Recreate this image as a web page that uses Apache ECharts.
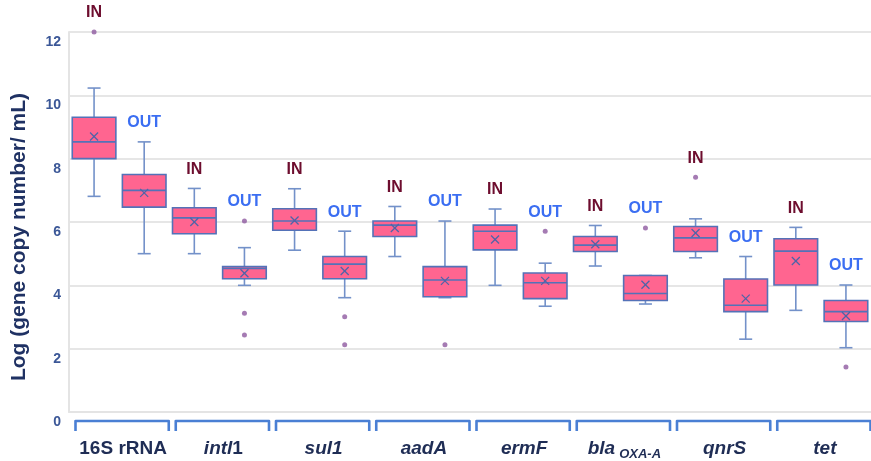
<!DOCTYPE html>
<html>
<head>
<meta charset="utf-8">
<script src="https://cdn.jsdelivr.net/npm/echarts@6/dist/echarts.min.js"></script>
<style>
html,body{margin:0;padding:0;background:#fff;}
#chart{width:871px;height:461px;}
</style>
</head>
<body>
<div id="chart"></div>
<script>
// ---- data ----
const genes = ['16S rRNA', 'intl1', 'sul1', 'aadA', 'ermF', 'blaOXA-A', 'qnrS', 'tet'];
const groups = ['IN', 'OUT'];
// 16 boxes, order: gene1 IN, gene1 OUT, gene2 IN, ...
const whiskerLow  = [6.81, 5.00, 5.00, 4.00, 5.11, 3.61, 4.91, 3.61, 4.00, 3.34, 4.61, 3.41, 4.87, 2.30, 3.21, 2.03];
const q1          = [8.00, 6.47, 5.63, 4.21, 5.74, 4.21, 5.54, 3.64, 5.12, 3.58, 5.07, 3.52, 5.07, 3.17, 4.01, 2.86];
const median      = [8.53, 7.00, 6.13, 4.53, 6.03, 4.67, 5.90, 4.17, 5.71, 4.08, 5.27, 3.74, 5.50, 3.37, 5.08, 3.17];
const q3          = [9.31, 7.50, 6.45, 4.59, 6.42, 4.91, 6.03, 4.59, 5.90, 4.39, 5.54, 4.31, 5.86, 4.20, 5.47, 3.52];
const whiskerHigh = [10.23, 8.53, 7.06, 5.19, 7.05, 5.71, 6.49, 6.03, 6.41, 4.70, 5.89, 4.31, 6.10, 4.91, 5.83, 4.01];
const mean        = [8.70, 6.92, 6.00, 4.38, 6.05, 4.45, 5.81, 4.14, 5.45, 4.14, 5.30, 4.02, 5.65, 3.58, 4.77, 3.03];
const outliers = [[0, 12.0], [3, 6.03], [3, 3.12], [3, 2.43], [5, 3.01], [5, 2.12], [7, 2.12], [9, 5.71], [11, 5.81], [12, 7.41], [15, 1.42]];
const yTicks = [0, 2, 4, 6, 8, 10, 12];

// ---- build ----
const boxCats = [];
genes.forEach(g => groups.forEach(s => boxCats.push(g + ' ' + s)));
const boxData = boxCats.map((c, i) => [i, whiskerLow[i], q1[i], median[i], q3[i], whiskerHigh[i], mean[i]]);
const topVal = boxCats.map((c, i) => {
  let t = whiskerHigh[i];
  outliers.forEach(o => { if (o[0] === i && o[1] > t) t = o[1]; });
  return t;
});

const FONT = '"Liberation Sans", Arial, sans-serif';
const chart = echarts.init(document.getElementById('chart'), null, {renderer: 'canvas'});

function geneLabel(g) {
  if (g === '16S rRNA') return '{b|16S rRNA}';
  if (g === 'intl1') return '{i|intl}{b|1}';
  if (g === 'blaOXA-A') return '{i|bla}{sub|OXA-A}';
  return '{i|' + g + '}';
}

const option = {
  animation: false,
  grid: {left: 69, right: -7, top: 32, bottom: 48, containLabel: false},
  xAxis: [
    {
      type: 'category', data: boxCats, boundaryGap: true,
      axisLine: {show: true, lineStyle: {color: '#e4e4e4', width: 2}},
      axisTick: {show: false}, axisLabel: {show: false}, splitLine: {show: false}
    },
    {
      type: 'category', data: genes, position: 'bottom', boundaryGap: true,
      axisLine: {show: false}, axisTick: {show: false}, splitLine: {show: false},
      axisLabel: {
        interval: 0, hideOverlap: false,
        margin: 25, padding: [0, 0, 0, 8],
        formatter: geneLabel,
        rich: {
          b: {fontFamily: FONT, fontWeight: 'bold', fontSize: 19, color: '#1f2d55', lineHeight: 24},
          i: {fontFamily: FONT, fontWeight: 'bold', fontStyle: 'italic', fontSize: 19, color: '#1f2d55', lineHeight: 24},
          sub: {fontFamily: FONT, fontWeight: 'bold', fontStyle: 'italic', fontSize: 13, color: '#1f2d55', lineHeight: 24, verticalAlign: 'bottom', padding: [6, 0, 0, 4]}
        }
      }
    }
  ],
  yAxis: {
    type: 'value', min: yTicks[0], max: yTicks[yTicks.length - 1], interval: 2,
    axisLine: {show: true, lineStyle: {color: '#e4e4e4', width: 2}},
    axisTick: {show: false},
    splitLine: {show: true, lineStyle: {color: '#e6e6e6', width: 2}},
    axisLabel: {
      margin: 8, color: '#3b5797', fontFamily: FONT, fontWeight: 'bold', fontSize: 14,
      verticalAlign: 'top', padding: [3, 0, 0, 0]
    }
  },
  graphic: [{
    type: 'text', x: 19, y: 237, rotation: Math.PI / 2,
    style: {
      text: 'Log (gene copy number/ mL)', x: 0, y: 0, align: 'center', verticalAlign: 'middle',
      fontFamily: FONT, fontWeight: 'bold', fontSize: 21, fill: '#1f3163'
    }
  }],
  series: [
    {
      type: 'custom', xAxisIndex: 0, yAxisIndex: 0, data: boxData,
      encode: {x: 0, y: [1, 2, 3, 4, 5, 6]}, clip: false, z: 3,
      renderItem: function (params, api) {
        const i = api.value(0);
        const x = api.coord([i, 0])[0];
        const bw = api.size([1, 0])[0] * 0.87;
        const h = bw / 2;
        const yLo = api.coord([i, api.value(1)])[1];
        const yQ1 = api.coord([i, api.value(2)])[1];
        const yMed = api.coord([i, api.value(3)])[1];
        const yQ3 = api.coord([i, api.value(4)])[1];
        const yHi = api.coord([i, api.value(5)])[1];
        const yMean = api.coord([i, api.value(6)])[1];
        const cap = 6.5, cr = 4;
        const wStyle = {stroke: '#7391c9', lineWidth: 1.6};
        const grp = groups[i % 2];
        const yLab = api.coord([i, topVal[i]])[1] - 19;
        return {
          type: 'group',
          children: [
            {type: 'line', shape: {x1: x, y1: yLo, x2: x, y2: yQ1}, style: wStyle},
            {type: 'line', shape: {x1: x, y1: yHi, x2: x, y2: yQ3}, style: wStyle},
            {type: 'line', shape: {x1: x - cap, y1: yLo, x2: x + cap, y2: yLo}, style: wStyle},
            {type: 'line', shape: {x1: x - cap, y1: yHi, x2: x + cap, y2: yHi}, style: wStyle},
            {type: 'rect', shape: {x: x - h, y: yQ3, width: bw, height: yQ1 - yQ3},
              style: {fill: '#ff6590', stroke: '#5472b8', lineWidth: 1.6}},
            {type: 'line', shape: {x1: x - h, y1: yMed, x2: x + h, y2: yMed}, style: {stroke: '#5472b8', lineWidth: 1.6}},
            {type: 'line', shape: {x1: x - cr, y1: yMean - cr, x2: x + cr, y2: yMean + cr}, style: {stroke: '#4f63a8', lineWidth: 1.3}},
            {type: 'line', shape: {x1: x - cr, y1: yMean + cr, x2: x + cr, y2: yMean - cr}, style: {stroke: '#4f63a8', lineWidth: 1.3}},
            {type: 'text', style: {
              text: grp, x: x, y: yLab, align: 'center', verticalAlign: 'middle',
              fontFamily: FONT, fontWeight: 'bold', fontSize: 16,
              fill: grp === 'IN' ? '#6d0d2e' : '#3b6ef2'
            }}
          ]
        };
      }
    },
    {
      type: 'scatter', xAxisIndex: 0, yAxisIndex: 0, data: outliers,
      symbol: 'circle', symbolSize: 5, z: 4,
      itemStyle: {color: '#8e5aa0'}
    },
    {
      type: 'custom', xAxisIndex: 1, yAxisIndex: 0,
      data: genes.map((g, i) => [i, 0]), encode: {x: 0, y: 1}, clip: false, z: 3,
      renderItem: function (params, api) {
        const i = api.value(0);
        const p = api.coord([i, 0]);
        const w = api.size([1, 0])[0] - 7;
        const x = p[0] + 3, y0 = p[1];
        return {
          type: 'polyline',
          shape: {points: [[x - w / 2, y0 + 19], [x - w / 2, y0 + 9], [x + w / 2, y0 + 9], [x + w / 2, y0 + 19]]},
          style: {stroke: '#4a7fd4', lineWidth: 2.6, fill: null, lineJoin: 'round'}
        };
      }
    }
  ]
};
chart.setOption(option);
</script>
</body>
</html>
